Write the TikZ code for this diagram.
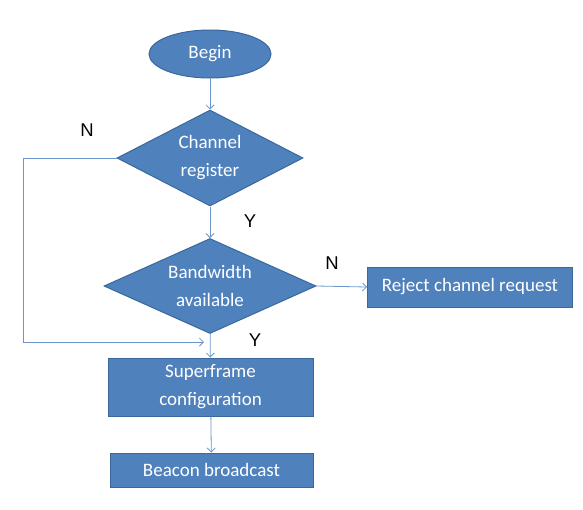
\documentclass[tikz,border=0pt]{standalone}
\usepackage{fontspec}
\setmainfont{Carlito}
\newfontfamily\labfont{Liberation Sans}
\usetikzlibrary{shapes.geometric,arrows.meta}
\definecolor{boxfill}{HTML}{4F81BD}
\definecolor{boxline}{HTML}{3A679C}
\definecolor{conn}{HTML}{6A96CC}
\tikzset{
  base/.style={fill=boxfill,draw=boxline,line width=1pt,text=white,font=\fontsize{19}{28}\selectfont,align=center,inner sep=0pt},
  procbox/.style={base,rectangle},
  decbox/.style={base,diamond,aspect=2},
  termbox/.style={base,ellipse},
  conn/.style={draw=conn,line width=0.8pt,-{Straight Barb[length=4pt,width=8pt]}},
  yn/.style={font=\labfont\fontsize{18.5}{22}\selectfont,text=black}
}
\begin{document}
\begin{tikzpicture}[x=1pt,y=-1pt]
\useasboundingbox (0,0) rectangle (583,509);
\node[termbox,minimum width=122pt,minimum height=48pt] (begin) at (210,54) {Begin};
\node[decbox,minimum width=186pt,minimum height=96pt] (chan) at (210,158) {Channel\\register};
\node[decbox,minimum width=212pt,minimum height=95pt] (bw) at (210,286) {Bandwidth\\available};
\node[procbox,minimum width=205pt,minimum height=40pt] (rej) at (470,287) {Reject channel request};
\node[procbox,minimum width=205pt,minimum height=58pt] (sf) at (210.5,387) {Superframe\\configuration};
\node[procbox,minimum width=203pt,minimum height=34pt] (bb) at (211.5,470) {Beacon broadcast};
\coordinate (loopL1) at (23,158);
\coordinate (loopL2) at (23,342);
\coordinate (loopEnd) at (204,342);
\draw[conn] (begin) -- (chan);
\draw[conn] (chan) -- (bw);
\draw[conn] (bw) -- (sf);
\draw[conn] (sf) -- (bb);
\draw[conn] (bw.east) -- (rej.west);
\draw[conn] (chan.west) -- (loopL1) -- (loopL2) -- (loopEnd);
\node[yn] (n1) at (87,130) {N};
\node[yn] (y1) at (250,221) {Y};
\node[yn] (n2) at (332,263) {N};
\node[yn] (y2) at (255,340) {Y};
\end{tikzpicture}
\end{document}
